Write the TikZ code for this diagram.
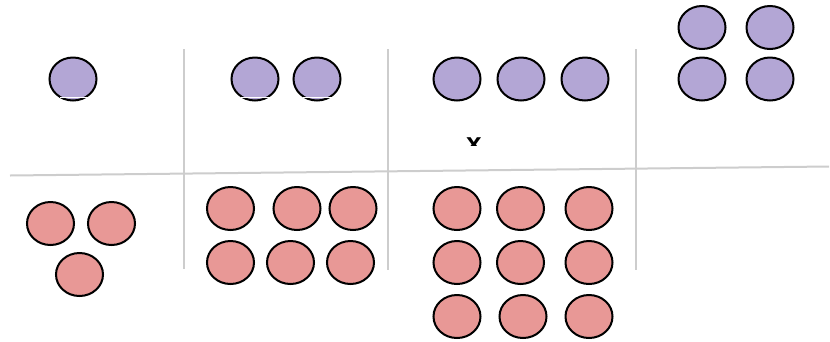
\documentclass[tikz,border=0pt]{standalone}
\usepackage{fontspec}
\setsansfont{Liberation Sans}
\usetikzlibrary{shapes.geometric}
\definecolor{lilac}{HTML}{B3A6D5}
\definecolor{salmon}{HTML}{E89896}
\definecolor{rule}{HTML}{CDCDCD}
\tikzset{
  dot/.style={ellipse, draw=black, line width=2pt, inner sep=0pt,
    minimum width=47pt, minimum height=43pt},
  topdot/.style={dot, fill=lilac},
  botdot/.style={dot, fill=salmon},
  gridline/.style={draw=rule, line width=2pt}
}
\begin{document}
\begin{tikzpicture}[x=1pt, y=-1pt]
    \useasboundingbox (0,0) rectangle (830,341);
    % grid
    \coordinate (hl) at (10,175.5);
    \coordinate (hr) at (829,166.5);
    \draw[gridline] (hl) -- (hr);
    \coordinate (v1t) at (184,49);  \coordinate (v1b) at (184,269);
    \coordinate (v2t) at (388,49);  \coordinate (v2b) at (388,270);
    \coordinate (v3t) at (636,49);  \coordinate (v3b) at (636,270);
    \draw[gridline] (v1t) -- (v1b);
    \draw[gridline] (v2t) -- (v2b);
    \draw[gridline] (v3t) -- (v3b);
    % top row
    \node[topdot] (a1) at (73,79) {};
    \node[topdot] (b1) at (255,79) {};
    \node[topdot] (b2) at (317,79) {};
    \node[topdot] (c1) at (457,79) {};
    \node[topdot] (c2) at (521,79) {};
    \node[topdot] (c3) at (585,79) {};
    \node[topdot] (d1) at (702,27.5) {};
    \node[topdot] (d2) at (770,27.5) {};
    \node[topdot] (d3) at (702,79) {};
    \node[topdot] (d4) at (770,79) {};
    \draw[white, line width=1.5pt] (60,97.5) -- (88,97.5);
    \draw[white, line width=1.5pt] (241,97.5) -- (270,97.5);
    \draw[white, line width=1.5pt] (303,97.5) -- (332,97.5);
    % clipped label
    \begin{scope}
        \clip (440,120) rectangle (510,145);
        \node[anchor=base, inner sep=0pt, font=\sffamily\bfseries\fontsize{28}{28}\selectfont]
            (xlab) at (474,152.5) {x};
    \end{scope}
    % bottom row
    \node[botdot] (e1) at (50.5,223.5) {};
    \node[botdot] (e2) at (111.5,223.5) {};
    \node[botdot] (e3) at (79.5,274.5) {};
    \node[botdot] (f1) at (230.5,208.5) {};
    \node[botdot] (f2) at (297,208.5) {};
    \node[botdot] (f3) at (353,208.5) {};
    \node[botdot] (f4) at (230.5,262.5) {};
    \node[botdot] (f5) at (290.5,262.5) {};
    \node[botdot] (f6) at (350.5,262.5) {};
    \node[botdot] (g1) at (457,208.5) {};
    \node[botdot] (g2) at (520.5,208.5) {};
    \node[botdot] (g3) at (589,208.5) {};
    \node[botdot] (g4) at (457,262.5) {};
    \node[botdot] (g5) at (520.5,262.5) {};
    \node[botdot] (g6) at (589,262.5) {};
    \node[botdot] (g7) at (457,316.5) {};
    \node[botdot] (g8) at (523,316.5) {};
    \node[botdot] (g9) at (589,316.5) {};
\end{tikzpicture}
\end{document}
